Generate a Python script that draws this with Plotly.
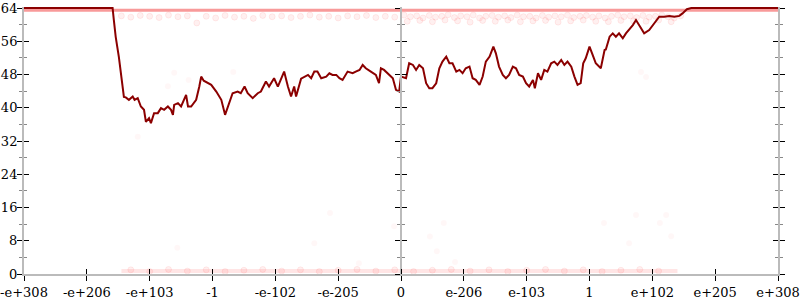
import plotly.graph_objects as go

# ---------------- data ----------------
x_tick_pos = [-6, -5, -4, -3, -2, -1, 0, 1, 2, 3, 4, 5, 6]
x_tick_labels = ["-e+308", "-e+206", "-e+103", "-1", "-e-102", "-e-205", "0",
                 "e-206", "e-103", "1", "e+102", "e+205", "e+308"]
y_major = [0, 8, 16, 24, 32, 40, 48, 56, 64]
y_minor = [4, 12, 20, 28, 36, 44, 52, 60]

line_x = [-6.0, -4.59, -4.57, -4.54, -4.49, -4.45, -4.41, -4.38, -4.33, -4.27, -4.24, -4.19,
          -4.14, -4.09, -4.06, -4.01, -3.98, -3.93, -3.87, -3.82, -3.77, -3.71, -3.66, -3.63,
          -3.61, -3.55, -3.50, -3.42, -3.39, -3.34, -3.26, -3.21, -3.18, -3.14, -3.08, -3.02,
          -2.94, -2.86, -2.80, -2.73, -2.68, -2.60, -2.55, -2.49, -2.44, -2.36, -2.28, -2.23,
          -2.15, -2.10, -2.02, -1.96, -1.86, -1.80, -1.75, -1.70, -1.67, -1.59, -1.48, -1.43,
          -1.38, -1.33, -1.27, -1.19, -1.14, -1.09, -1.03, -0.98, -0.93, -0.85, -0.77, -0.72,
          -0.66, -0.61, -0.56, -0.48, -0.40, -0.35, -0.32, -0.27, -0.19, -0.13, -0.08, -0.03,
          0.00, 0.08, 0.13, 0.19, 0.24, 0.29, 0.35, 0.40, 0.45, 0.50, 0.56, 0.61, 0.66, 0.72,
          0.77, 0.82, 0.88, 0.93, 0.98, 1.03, 1.09, 1.14, 1.19, 1.25, 1.30, 1.35, 1.41, 1.47,
          1.51, 1.56, 1.62, 1.67, 1.72, 1.78, 1.83, 1.88, 1.94, 1.99, 2.04, 2.10, 2.13, 2.18,
          2.23, 2.28, 2.33, 2.39, 2.44, 2.49, 2.55, 2.60, 2.65, 2.71, 2.76, 2.81, 2.86, 2.90,
          2.94, 3.00, 3.05, 3.10, 3.18, 3.24, 3.26, 3.32, 3.37, 3.42, 3.47, 3.53, 3.58, 3.63,
          3.69, 3.74, 3.79, 3.87, 3.95, 4.03, 4.11, 4.19, 4.27, 4.35, 4.43, 4.48, 4.55, 4.62,
          6.0]
line_y = [64, 64, 61.1, 57.0, 52.2, 47.4, 42.6, 42.5, 41.9, 42.7, 41.9, 42.3,
          40.3, 39.5, 36.6, 37.5, 36.3, 38.7, 38.7, 39.9, 39.5, 40.3, 39.5, 38.3,
          40.7, 41.1, 40.3, 43.1, 40.3, 40.3, 41.9, 45.1, 47.5, 46.5, 45.9, 45.5,
          43.9, 41.9, 38.3, 41.1, 43.5, 43.9, 43.5, 45.1, 43.5, 42.3, 43.5, 43.9,
          46.3, 45.1, 47.1, 45.1, 48.7, 45.1, 42.7, 45.1, 42.7, 47.0, 47.9, 47.1,
          48.7, 48.7, 47.1, 47.5, 48.3, 47.9, 47.9, 47.1, 46.7, 48.7, 48.3, 48.7,
          49.1, 50.3, 49.5, 48.7, 47.9, 45.9, 49.5, 49.1, 47.9, 47.1, 44.3, 43.9,
          47.5, 47.1, 50.7, 50.3, 49.1, 50.3, 49.5, 45.9, 44.7, 44.7, 45.9, 49.5, 51.1, 52.3,
          50.7, 50.7, 48.7, 49.1, 48.3, 49.5, 49.9, 47.1, 46.7, 45.5, 47.5, 51.1, 52.3, 54.7,
          53.1, 49.9, 47.9, 47.1, 47.9, 49.9, 49.5, 47.9, 47.5, 45.9, 45.1, 46.7, 44.7, 48.3,
          46.7, 49.1, 48.7, 50.7, 51.1, 50.3, 51.5, 50.3, 51.1, 49.9, 47.5, 45.5, 45.9, 50.7,
          51.9, 54.7, 52.7, 50.7, 49.5, 53.9, 54.0, 57.1, 57.9, 57.1, 57.9, 56.7, 57.9, 58.7,
          59.9, 61.1, 59.9, 57.9, 58.7, 60.3, 61.9, 61.9, 62.1, 61.9, 62.1, 62.7, 63.7, 64,
          64]

top_band_x = [-6, 6]
top_band_y = [63.45, 63.45]
bottom_band_x = [-4.45, 4.4]
bottom_band_y = [0.75, 0.75]

row_left_x = [-4.45, -4.3, -4.15, -4.0, -3.85, -3.7, -3.55, -3.4, -3.25, -3.1, -2.95, -2.8,
              -2.65, -2.5, -2.35, -2.2, -2.05, -1.9, -1.75, -1.6, -1.45, -1.3, -1.15, -1.0,
              -0.85, -0.7, -0.55, -0.4, -0.25, -0.1]
row_left_y = [62.1, 61.8, 62.2, 62.0, 61.7, 62.3, 61.9, 62.1, 60.4, 62.0, 61.6, 62.2,
              61.8, 62.0, 61.5, 62.2, 61.9, 62.1, 61.7, 62.0, 62.3, 61.8, 62.0, 61.6,
              62.1, 61.9, 62.2, 61.7, 62.0, 61.8]
row_right_x = [0.05, 0.15, 0.25, 0.35, 0.45, 0.55, 0.65, 0.75, 0.85, 0.95, 1.05, 1.15, 1.25,
               1.35, 1.45, 1.55, 1.65, 1.75, 1.85, 1.95, 2.05, 2.15, 2.25, 2.35, 2.45, 2.55,
               2.65, 2.75, 2.85, 2.95, 3.05, 3.15, 3.25, 3.35, 3.45, 3.55, 3.65, 3.75, 3.85,
               3.95, 4.05, 4.15, 4.25, 4.35, 4.45,
               0.1, 0.3, 0.5, 0.7, 0.9, 1.1, 1.3, 1.5, 1.7, 1.9, 2.1, 2.3, 2.5, 2.7, 2.9,
               3.1, 3.3, 3.5, 3.7, 3.9, 4.1, 4.3]
row_right_y = [62.3, 61.9, 62.1, 61.6, 62.2, 61.8, 62.0, 62.4, 61.7, 62.1, 61.9, 62.3, 61.6,
               62.0, 62.2, 61.8, 62.1, 61.7, 62.3, 61.9, 62.0, 61.6, 62.2, 61.8, 62.1, 61.9,
               62.3, 61.7, 62.0, 62.2, 61.8, 62.1, 61.6, 62.0, 62.3, 61.9, 62.1, 61.7, 62.2,
               61.8, 62.0, 62.3, 61.9, 61.6, 62.1,
               60.8, 61.0, 60.7, 61.1, 60.9, 60.6, 61.0, 60.8, 61.1, 60.7, 60.9, 61.0, 60.6,
               60.9, 61.1, 60.8, 60.7, 61.0, 60.9, 60.8, 61.1, 60.7]
bottom_dots_x = [-4.3, -4.0, -3.7, -3.4, -3.1, -2.8, -2.5, -2.2, -1.9, -1.6, -1.3, -1.0, -0.7,
                 -0.4, -0.1, 0.2, 0.5, 0.8, 1.1, 1.4, 1.7, 2.0, 2.3, 2.6, 2.9, 3.2, 3.5, 3.8, 4.1]
bottom_dots_y = [1.0, 0.6, 1.1, 0.7, 1.0, 0.6, 0.9, 1.1, 0.7, 1.0, 0.6, 0.9, 1.1,
                 0.7, 1.0, 0.6, 0.9, 1.1, 0.7, 1.0, 0.6, 0.9, 1.1, 0.7, 1.0, 0.6, 0.9, 1.1, 0.7]
sparse_x = [-3.61, -3.38, -3.71, -2.67, -4.19, -3.56, -1.13, -1.38, -0.67, -0.11, 0.68, 0.46,
            0.57, 0.86, 3.74, 4.22, 4.12, 4.30, 3.63, 3.23, 3.82, 3.90]
sparse_y = [48.4, 46.7, 45.2, 48.6, 33.0, 6.3, 14.7, 7.4, 2.6, 11.5, 12.3, 9.0,
            5.5, 2.9, 14.2, 14.2, 12.3, 9.1, 7.4, 12.3, 48.6, 47.4]

# ---------------- figure ----------------
fig = go.Figure()
faint = dict(color="rgba(255,0,0,0.06)", size=6, line=dict(color="rgba(255,0,0,0.07)", width=1))

fig.add_trace(go.Scatter(x=top_band_x, y=top_band_y, mode="lines",
                         line=dict(color="rgba(240,30,30,0.45)", width=3), hoverinfo="skip"))
fig.add_trace(go.Scatter(x=bottom_band_x, y=bottom_band_y, mode="lines",
                         line=dict(color="rgba(255,0,0,0.10)", width=4), hoverinfo="skip"))
fig.add_trace(go.Scatter(x=row_left_x, y=row_left_y, mode="markers", marker=faint, hoverinfo="skip"))
fig.add_trace(go.Scatter(x=row_right_x, y=row_right_y, mode="markers", marker=faint, hoverinfo="skip"))
fig.add_trace(go.Scatter(x=bottom_dots_x, y=bottom_dots_y, mode="markers", marker=faint, hoverinfo="skip"))
fig.add_trace(go.Scatter(x=sparse_x, y=sparse_y, mode="markers",
                         marker=dict(color="rgba(255,0,0,0.03)", size=6), hoverinfo="skip"))
fig.add_trace(go.Scatter(x=line_x, y=line_y, mode="lines",
                         line=dict(color="#8b0000", width=2), hoverinfo="skip"))

# dummy traces so the overlay axes exist
for ya in ["y2", "y3", "y4", "y5", "y6"]:
    fig.add_trace(go.Scatter(x=[None], y=[None], yaxis=ya, showlegend=False, hoverinfo="skip"))
fig.add_trace(go.Scatter(x=[None], y=[None], xaxis="x2", showlegend=False, hoverinfo="skip"))

Y_TOP = 64 * 267 / 266
font = dict(family="DejaVu Serif", size=13, color="black")
AXC = "#bbbbbb"

def yax(**kw):
    d = dict(range=[0, Y_TOP], tickvals=y_major, showgrid=False, zeroline=False,
             tickcolor="black", tickwidth=1, ticklen=5, showticklabels=False,
             automargin=False)
    d.update(kw)
    return d

def mnr(kind):
    return dict(tickvals=y_minor, ticks=kind, ticklen=3, tickcolor="#888888", tickwidth=1)

fig.update_layout(
    width=800, height=300,
    margin=dict(l=24, r=22, t=7, b=26, autoexpand=False),
    paper_bgcolor="white", plot_bgcolor="white",
    showlegend=False,
    xaxis=dict(range=[-6, 6], tickvals=x_tick_pos, ticktext=x_tick_labels,
               ticks="outside", ticklen=5, tickcolor="black", tickwidth=1,
               showline=True, linecolor=AXC, linewidth=2, showgrid=False, zeroline=False,
               tickfont=font, anchor="y", automargin=False),
    xaxis2=dict(range=[-6, 6], tickvals=x_tick_pos, overlaying="x", side="bottom", anchor="y",
                ticks="inside", ticklen=5, tickcolor="black", tickwidth=1, automargin=False,
                showticklabels=False, showline=False, showgrid=False, zeroline=False),
    yaxis=yax(ticks="outside", showline=True, linecolor=AXC, linewidth=2, anchor="x",
              side="left", showticklabels=True, tickfont=font, minor=mnr("outside"),
              ticklabelstandoff=-3),
    yaxis2=yax(ticks="inside", overlaying="y", anchor="x", side="left", minor=mnr("inside")),
    yaxis3=yax(ticks="outside", overlaying="y", anchor="free", position=0.5, side="left",
               showline=True, linecolor=AXC, linewidth=2, minor=mnr("outside")),
    yaxis4=yax(ticks="inside", overlaying="y", anchor="free", position=0.5, side="left",
               minor=mnr("inside")),
    yaxis5=yax(ticks="outside", overlaying="y", anchor="x", side="right",
               showline=True, linecolor=AXC, linewidth=2, minor=mnr("outside")),
    yaxis6=yax(ticks="inside", overlaying="y", anchor="x", side="right", minor=mnr("inside")),
)

fig.write_html("out.html")
